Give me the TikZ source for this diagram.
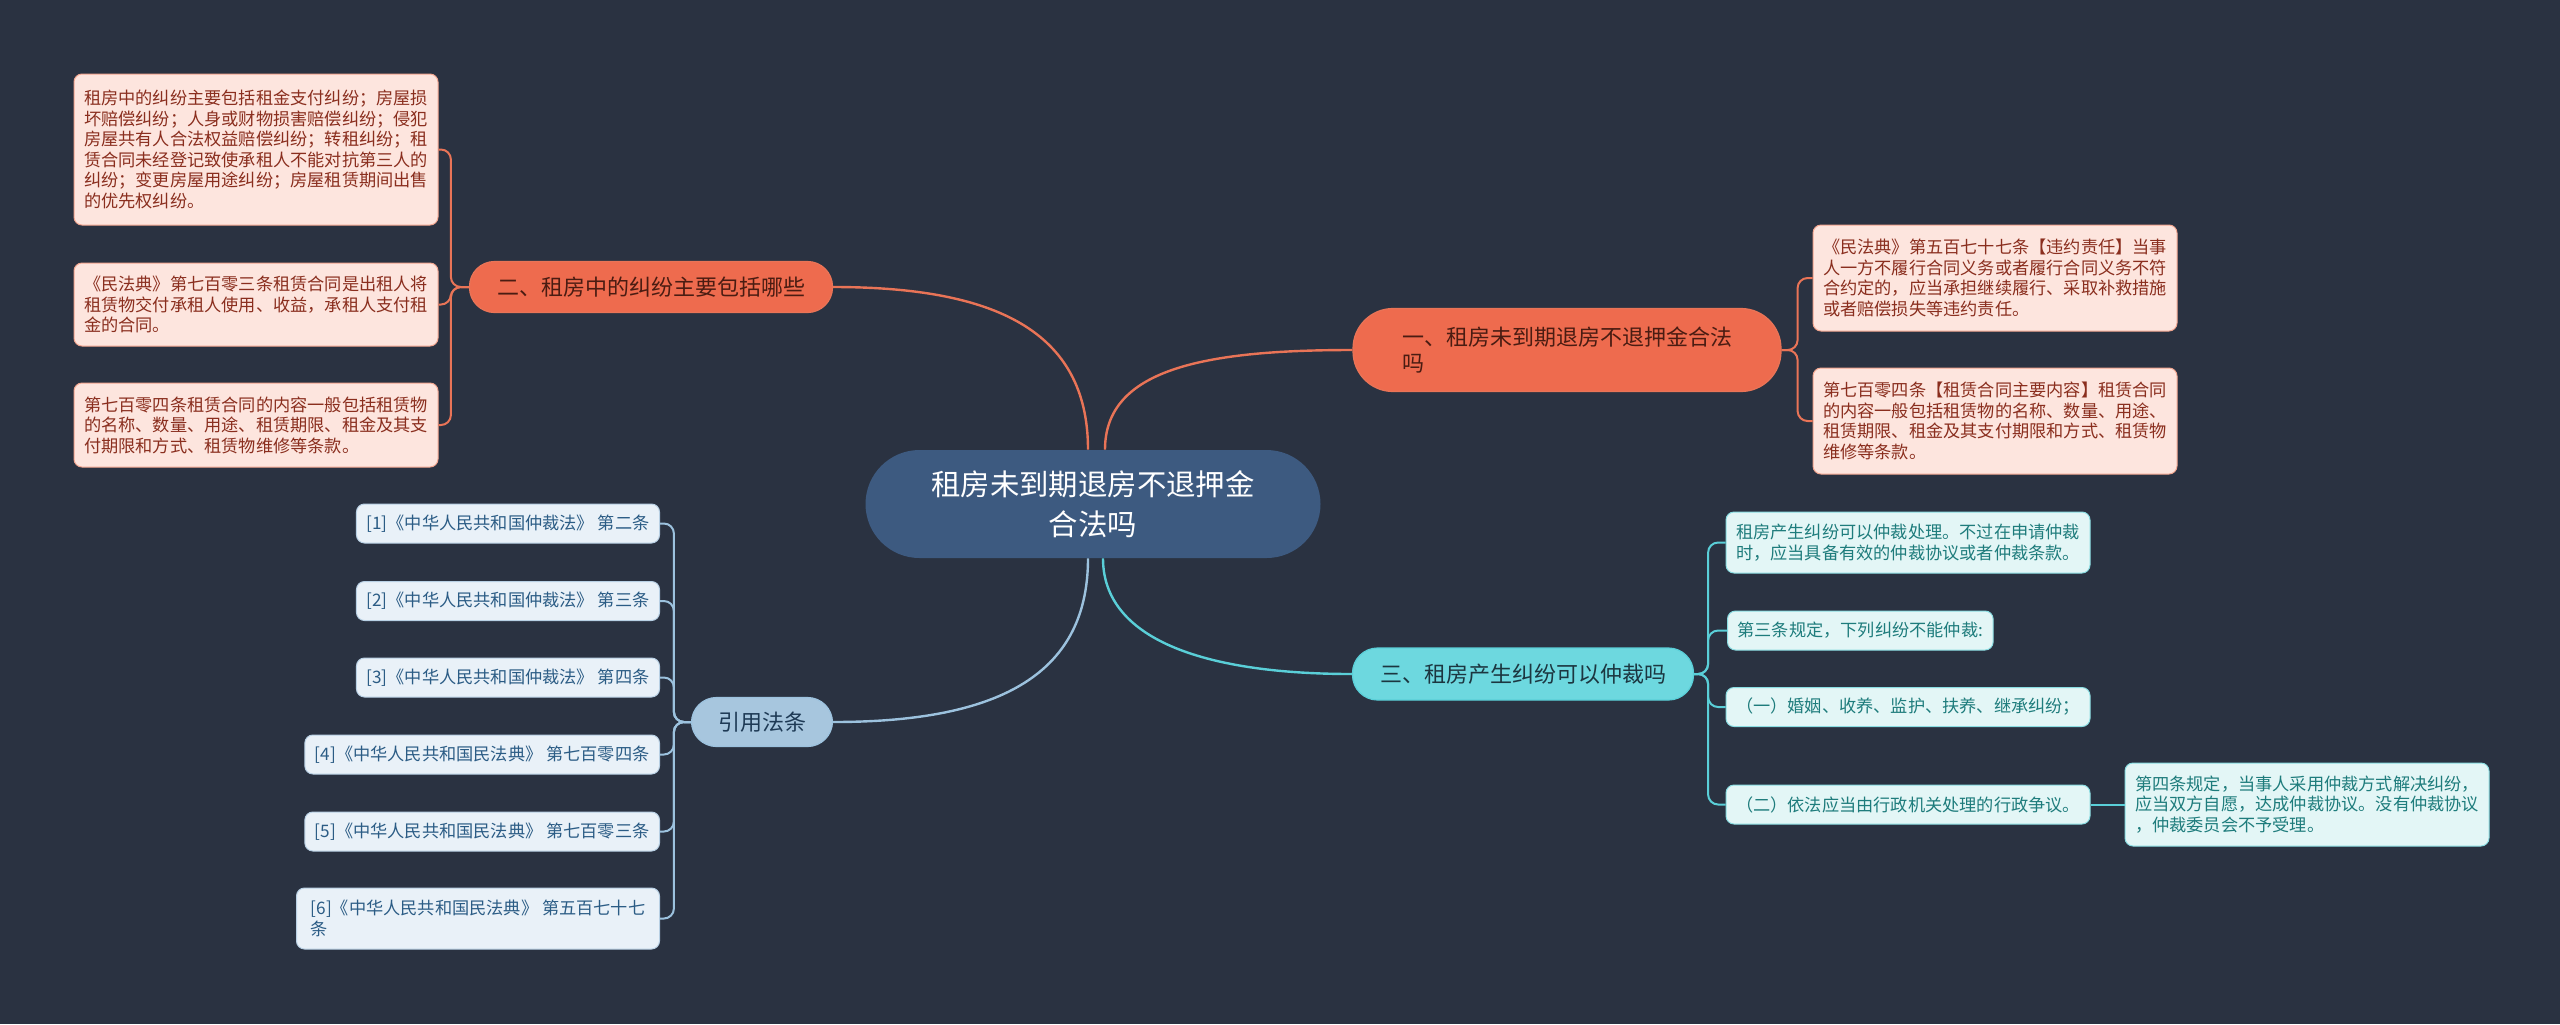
\documentclass[tikz,border=0pt]{standalone}
\usepackage{fontspec}
\setmainfont{Noto Sans CJK SC}
\usepackage{xcolor}
\usepackage{tikz}
\usetikzlibrary{positioning,calc}

\definecolor{bgdark}{HTML}{2A3241}
\definecolor{rootblue}{HTML}{3D5A80}
\definecolor{redfill}{HTML}{EE6B4E}
\definecolor{redline}{HTML}{E97457}
\definecolor{redtext}{HTML}{4A1C12}
\definecolor{pinkfill}{HTML}{FDE5DE}
\definecolor{pinkline}{HTML}{F2A690}
\definecolor{pinktext}{HTML}{8A2E1E}
\definecolor{cyanfill}{HTML}{6DD8DF}
\definecolor{cyanline}{HTML}{5ACFD8}
\definecolor{cyantext}{HTML}{1C3640}
\definecolor{tealfill}{HTML}{E3F6F6}
\definecolor{tealline}{HTML}{8ADDE2}
\definecolor{tealtext}{HTML}{1E7C7C}
\definecolor{bluefill}{HTML}{A7C6DE}
\definecolor{blueline}{HTML}{9CC2DE}
\definecolor{bluetext}{HTML}{1E3A55}
\definecolor{skyfill}{HTML}{E9F1F8}
\definecolor{skyline}{HTML}{B8D0E4}
\definecolor{skytext}{HTML}{2B5C85}

\begin{document}
\begin{tikzpicture}[x=0.5pt, y=-0.5pt,
  hub/.style={rectangle, rounded corners=27pt, fill=rootblue, text=white,
              minimum width=227.5pt, minimum height=54pt, inner sep=0pt,
              align=center, font=\fontsize{14.7}{20}\selectfont},
  topic/.style={rectangle, rounded corners=12.5pt, inner sep=0pt, line width=0.6pt,
                minimum height=25.5pt, align=left,
                font=\fontsize{11}{13.3}\selectfont},
  redtopic/.style={topic, fill=redfill, draw=redline, text=redtext},
  cyantopic/.style={topic, fill=cyanfill, draw=cyanline, text=cyantext},
  bluetopic/.style={topic, fill=bluefill, draw=blueline, text=bluetext},
  note/.style={rectangle, rounded corners=4pt, inner xsep=5pt, inner ysep=0pt,
               line width=0.5pt, align=left,
               font=\fontsize{8.6}{10.25}\selectfont},
  pinknote/.style={note, fill=pinkfill, draw=pinkline, text=pinktext,
                   minimum width=182pt},
  tealnote/.style={note, fill=tealfill, draw=tealline, text=tealtext,
                   minimum height=19.5pt},
  skynote/.style={note, fill=skyfill, draw=skyline, text=skytext,
                  minimum height=19.5pt},
  trunk/.style={line width=1.2pt},
  link/.style={line width=1pt, rounded corners=5pt}
]
  \fill[bgdark] (0,0) rectangle (2560,1024);

  % centre and main topics
  \node[hub] (root) at (1093,504) {租房未到期退房不退押金\\合法吗};
  \node[redtopic, rounded corners=20pt, minimum width=214pt, minimum height=41.5pt]
    (b1) at (1567,350) {一、租房未到期退房不退押金合法\\吗};
  \node[redtopic, minimum width=181.5pt] (b2) at (651,287) {二、租房中的纠纷主要包括哪些};
  \node[cyantopic, minimum width=170.5pt, minimum height=26pt] (b3) at (1523,674)
    {三、租房产生纠纷可以仲裁吗};
  \node[bluetopic, minimum width=70.5pt, minimum height=24.5pt] (b4) at (762,722) {引用法条};

  \coordinate (r1) at ([xshift=6pt]root.north);
  \coordinate (r2) at ([xshift=-2.5pt]root.north);
  \coordinate (r3) at ([xshift=5pt]root.south);
  \coordinate (r4) at ([xshift=-2.5pt]root.south);
  \draw[trunk, redline] (r1) .. controls +(0,-80) and +(-150,0) .. (b1.west);
  \draw[trunk, redline] (r2) .. controls +(0,-120) and +(160,0) .. (b2.east);
  \draw[trunk, cyanline] (r3) .. controls +(0,80) and +(-150,0) .. (b3.west);
  \draw[trunk, blueline] (r4) .. controls +(0,120) and +(160,0) .. (b4.east);

  % topic one
  \node[pinknote, minimum height=53pt] (n1a) at (1995,278)
    {《民法典》第五百七十七条【违约责任】当事\\人一方不履行合同义务或者履行合同义务不符\\合约定的，应当承担继续履行、采取补救措施\\或者赔偿损失等违约责任。};
  \node[pinknote, minimum height=53pt] (n1b) at (1995,421)
    {第七百零四条【租赁合同主要内容】租赁合同\\的内容一般包括租赁物的名称、数量、用途、\\租赁期限、租金及其支付期限和方式、租赁物\\维修等条款。};
  \draw[link, redline] (b1.east) -- ++(16,0) |- (n1a.west);
  \draw[link, redline] (b1.east) -- ++(16,0) |- (n1b.west);

  % topic two
  \node[pinknote, minimum height=75.5pt] (n2a) at (256,149.5)
    {租房中的纠纷主要包括租金支付纠纷；房屋损\\坏赔偿纠纷；人身或财物损害赔偿纠纷；侵犯\\房屋共有人合法权益赔偿纠纷；转租纠纷；租\\赁合同未经登记致使承租人不能对抗第三人的\\纠纷；变更房屋用途纠纷；房屋租赁期间出售\\的优先权纠纷。};
  \node[pinknote, minimum height=41.5pt] (n2b) at (256,304.5)
    {《民法典》第七百零三条租赁合同是出租人将\\租赁物交付承租人使用、收益，承租人支付租\\金的合同。};
  \node[pinknote, minimum height=42pt] (n2c) at (256,425)
    {第七百零四条租赁合同的内容一般包括租赁物\\的名称、数量、用途、租赁期限、租金及其支\\付期限和方式、租赁物维修等条款。};
  \foreach \n in {n2a,n2b,n2c}
    \draw[link, redline] (b2.west) -- ++(-18,0) |- (\n.east);

  % topic three
  \node[tealnote, minimum width=181pt, minimum height=30.5pt] (n3a) at (1908,542.5)
    {租房产生纠纷可以仲裁处理。不过在申请仲裁\\时，应当具备有效的仲裁协议或者仲裁条款。};
  \node[tealnote, anchor=west] (n3b) at (1727,630.5) {第三条规定，下列纠纷不能仲裁:};
  \node[tealnote, minimum width=181pt] (n3c) at (1908,707)
    {（一）婚姻、收养、监护、扶养、继承纠纷；};
  \node[tealnote, minimum width=181pt] (n3d) at (1908,804.5)
    {（二）依法应当由行政机关处理的行政争议。};
  \node[tealnote, minimum width=181.5pt, minimum height=41.5pt, right=17pt of n3d] (n3e)
    {第四条规定，当事人采用仲裁方式解决纠纷，\\应当双方自愿，达成仲裁协议。没有仲裁协议\\，仲裁委员会不予受理。};
  \foreach \n in {n3a,n3b,n3c,n3d}
    \draw[link, cyanline] (b3.east) -- ++(14,0) |- (\n.west);
  \draw[link, cyanline] (n3d) -- (n3e);

  % references
  \node[skynote, anchor=east] (s1) at (660,523.5) {[1]《中华人民共和国仲裁法》 第二条};
  \node[skynote, anchor=east] (s2) at (660,601) {[2]《中华人民共和国仲裁法》 第三条};
  \node[skynote, anchor=east] (s3) at (660,677.5) {[3]《中华人民共和国仲裁法》 第四条};
  \node[skynote, anchor=east] (s4) at (660,754.5) {[4]《中华人民共和国民法典》 第七百零四条};
  \node[skynote, anchor=east] (s5) at (660,831.5) {[5]《中华人民共和国民法典》 第七百零三条};
  \node[skynote, anchor=east, minimum width=181.5pt, minimum height=30.5pt] (s6) at (660,918.5)
    {[6]《中华人民共和国民法典》 第五百七十七\\条};
  \foreach \n in {s1,s2,s3,s4,s5,s6}
    \draw[link, blueline] (b4.west) -- ++(-17,0) |- (\n.east);
\end{tikzpicture}
\end{document}
